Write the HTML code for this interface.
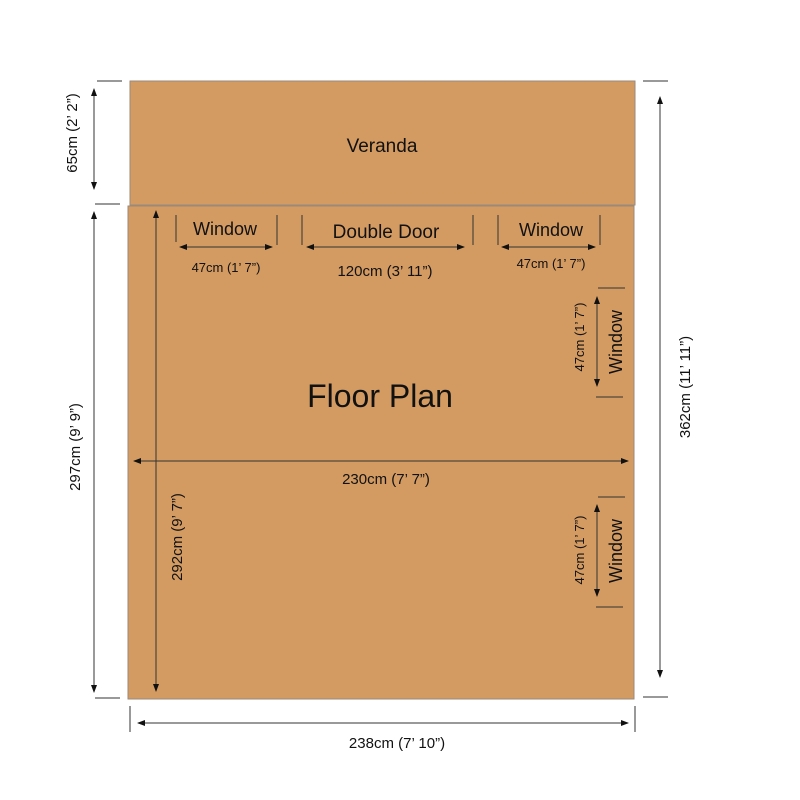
<!DOCTYPE html>
<html><head><meta charset="utf-8"><style>body{margin:0;background:#fff}svg{display:block}text{font-family:"Liberation Sans",sans-serif;fill:#111}</style></head><body>
<svg width="800" height="800" viewBox="0 0 800 800" xmlns="http://www.w3.org/2000/svg">
<defs><marker id="a" markerWidth="8" markerHeight="6" refX="7" refY="3" orient="auto-start-reverse" markerUnits="userSpaceOnUse"><path d="M0,0 L8,3 L0,6 z" fill="#111"/></marker></defs>
<rect x="130" y="81" width="505" height="124" fill="#D39B62" stroke="#9a8a7a" stroke-width="1"/>
<rect x="128" y="206" width="506" height="493" fill="#D39B62" stroke="#9a8a7a" stroke-width="1"/>
<g stroke="#333" stroke-width="1" fill="none">
<line x1="97" y1="81" x2="122" y2="81"/><line x1="95" y1="204" x2="120" y2="204"/>
<line x1="94" y1="89" x2="94" y2="189" marker-start="url(#a)" marker-end="url(#a)"/>
<line x1="94" y1="212" x2="94" y2="692" marker-start="url(#a)" marker-end="url(#a)"/>
<line x1="95" y1="698" x2="120" y2="698"/>
<line x1="643" y1="81" x2="668" y2="81"/><line x1="643" y1="697" x2="668" y2="697"/>
<line x1="660" y1="97" x2="660" y2="677" marker-start="url(#a)" marker-end="url(#a)"/>
<line x1="130" y1="706" x2="130" y2="732"/><line x1="635" y1="706" x2="635" y2="732"/>
<line x1="138" y1="723" x2="628" y2="723" marker-start="url(#a)" marker-end="url(#a)"/>
<line x1="156" y1="211" x2="156" y2="691" marker-start="url(#a)" marker-end="url(#a)"/>
<line x1="134" y1="461" x2="628" y2="461" marker-start="url(#a)" marker-end="url(#a)"/>
<line x1="176" y1="215" x2="176" y2="242"/><line x1="277" y1="215" x2="277" y2="245"/>
<line x1="180" y1="247" x2="272" y2="247" marker-start="url(#a)" marker-end="url(#a)"/>
<line x1="302" y1="215" x2="302" y2="245"/><line x1="473" y1="215" x2="473" y2="245"/>
<line x1="307" y1="247" x2="464" y2="247" marker-start="url(#a)" marker-end="url(#a)"/>
<line x1="498" y1="215" x2="498" y2="245"/><line x1="600" y1="215" x2="600" y2="245"/>
<line x1="502" y1="247" x2="595" y2="247" marker-start="url(#a)" marker-end="url(#a)"/>
<line x1="598" y1="288" x2="625" y2="288"/><line x1="596" y1="397" x2="623" y2="397"/>
<line x1="597" y1="297" x2="597" y2="386" marker-start="url(#a)" marker-end="url(#a)"/>
<line x1="598" y1="497" x2="625" y2="497"/><line x1="596" y1="607" x2="623" y2="607"/>
<line x1="597" y1="505" x2="597" y2="596" marker-start="url(#a)" marker-end="url(#a)"/>
</g>
<text x="382" y="152" font-size="19" text-anchor="middle">Veranda</text>
<text x="380" y="407" font-size="32" text-anchor="middle">Floor Plan</text>
<text x="225" y="235" font-size="18" text-anchor="middle">Window</text>
<text x="386" y="238" font-size="19" text-anchor="middle">Double Door</text>
<text x="551" y="236" font-size="18" text-anchor="middle">Window</text>
<text x="226" y="272" font-size="13" text-anchor="middle">47cm (1’ 7”)</text>
<text x="385" y="276" font-size="15" text-anchor="middle">120cm (3’ 11”)</text>
<text x="551" y="268" font-size="13" text-anchor="middle">47cm (1’ 7”)</text>
<text x="386" y="484" font-size="15" text-anchor="middle">230cm (7’ 7”)</text>
<text x="397" y="748" font-size="15" text-anchor="middle">238cm (7’ 10”)</text>
<text transform="translate(77,133) rotate(-90)" font-size="15" text-anchor="middle">65cm (2’ 2”)</text>
<text transform="translate(80,447) rotate(-90)" font-size="15" text-anchor="middle">297cm (9’ 9”)</text>
<text transform="translate(182,537) rotate(-90)" font-size="15" text-anchor="middle">292cm (9’ 7”)</text>
<text transform="translate(690,387) rotate(-90)" font-size="15" text-anchor="middle">362cm (11’ 11”)</text>
<text transform="translate(584,337) rotate(-90)" font-size="13" text-anchor="middle">47cm (1’ 7”)</text>
<text transform="translate(622,342) rotate(-90)" font-size="18" text-anchor="middle">Window</text>
<text transform="translate(584,550) rotate(-90)" font-size="13" text-anchor="middle">47cm (1’ 7”)</text>
<text transform="translate(622,551) rotate(-90)" font-size="18" text-anchor="middle">Window</text>
</svg>
</body></html>
